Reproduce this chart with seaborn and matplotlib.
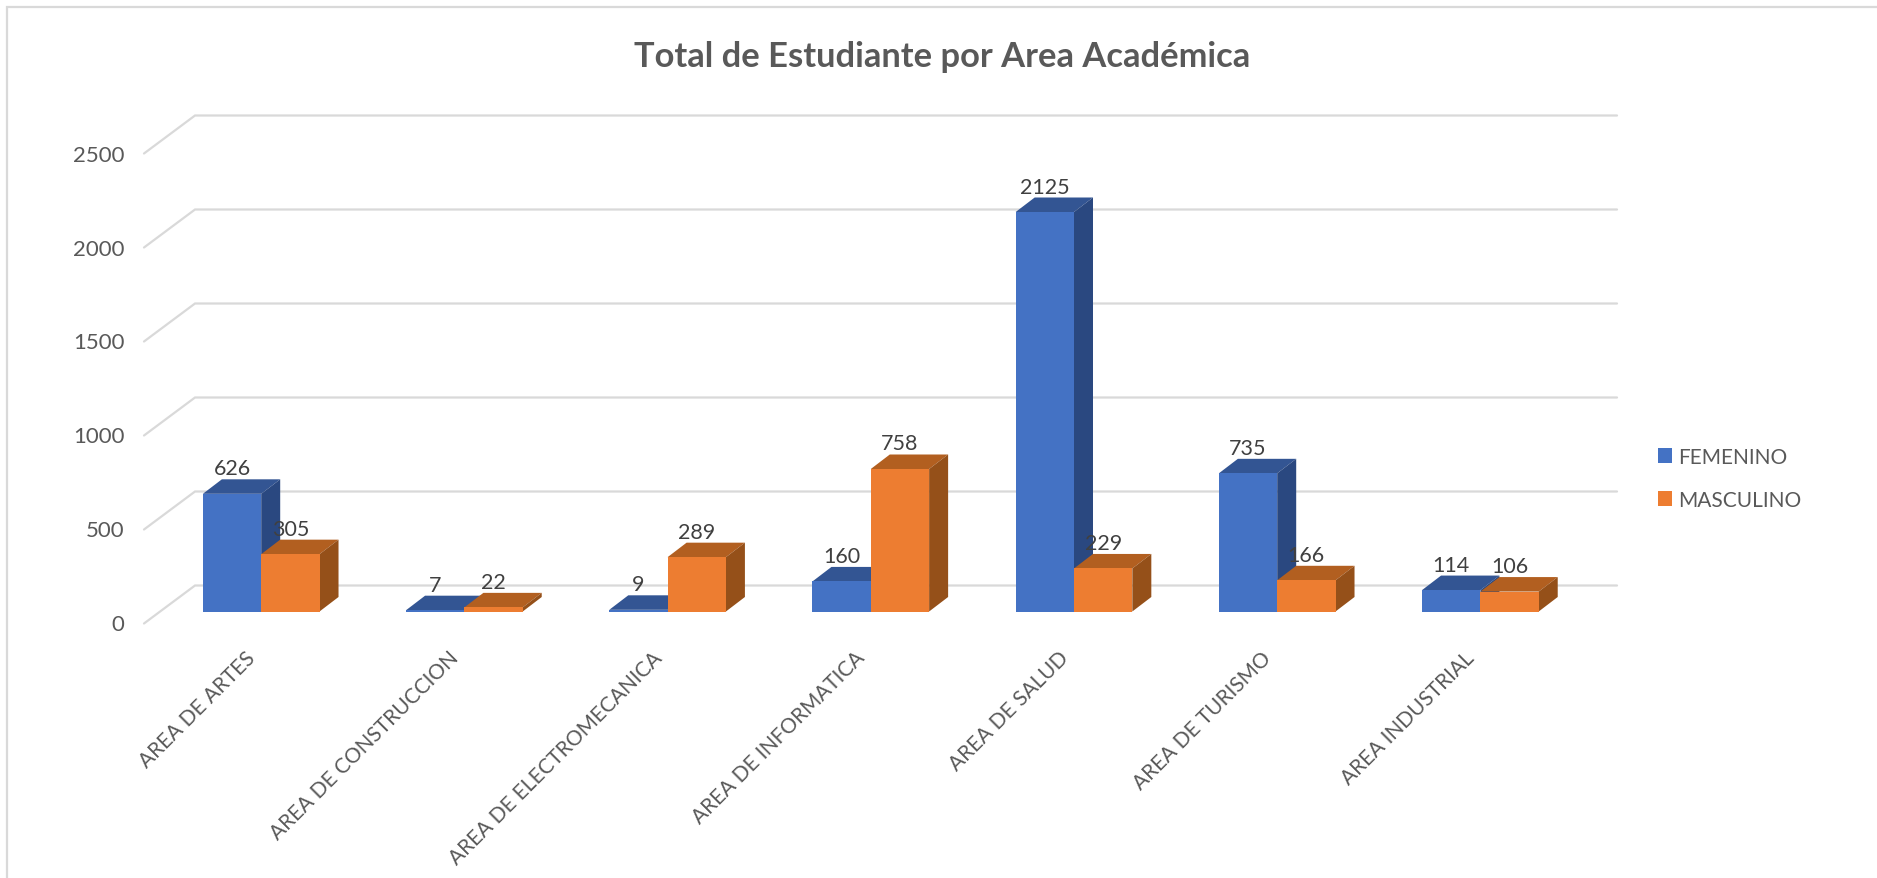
import matplotlib
matplotlib.use("Agg")
import matplotlib.pyplot as plt
from matplotlib.patches import Polygon, Rectangle, Patch
from matplotlib.transforms import Affine2D
import seaborn as sns
import pandas as pd

categories = ["AREA DE ARTES", "AREA DE CONSTRUCCION", "AREA DE ELECTROMECANICA",
              "AREA DE INFORMATICA", "AREA DE SALUD", "AREA DE TURISMO", "AREA INDUSTRIAL"]
femenino = [626, 7, 9, 160, 2125, 735, 114]
masculino = [305, 22, 289, 758, 229, 166, 106]
y_ticks = [0, 500, 1000, 1500, 2000, 2500]
series_names = ["FEMENINO", "MASCULINO"]
title = "Total de Estudiante por Area Académica"

FONT = ["Lato", "DejaVu Sans"]
W, H = 1877, 879
PX_PER_CAT = 203.2
PX_PER_UNIT = 0.188
X0_PX = 261.2      # pixel centre of first category
BASE_PX = 612.5    # pixel row of value 0

sns.set_theme(style="white")
plt.rcParams["font.family"] = FONT

df = pd.DataFrame({
    "cat": categories * 2,
    "val": femenino + masculino,
    "sex": [series_names[0]] * 7 + [series_names[1]] * 7,
})

fig = plt.figure(figsize=(W / 100, H / 100), dpi=100)
L, R = 144.0, 1617.0
T_V, B_V = 2700.0, -100.0
top_px = BASE_PX - T_V * PX_PER_UNIT
bot_px = BASE_PX - B_V * PX_PER_UNIT
ax = fig.add_axes([L / W, 1 - bot_px / H, (R - L) / W, (bot_px - top_px) / H])

colors = {"FEMENINO": "#4472C4", "MASCULINO": "#ED7D31"}
sns.barplot(data=df, x="cat", y="val", hue="sex", hue_order=series_names, palette=colors,
            width=0.574, gap=0, dodge=True, saturation=1, legend=False, ax=ax, zorder=4,
            linewidth=0)
ax.set_xlim((L - X0_PX) / PX_PER_CAT, (R - X0_PX) / PX_PER_CAT)
ax.set_ylim(B_V, T_V)
for s in ax.spines.values():
    s.set_visible(False)
ax.set_xlabel("")
ax.set_ylabel("")

# depth of bars, in data units
DX = 19.0 / PX_PER_CAT
DY = 14.5 / PX_PER_UNIT
shades = {0: ("#335593", "#2A4880"), 1: ("#B25F20", "#955019")}
cn = ax.containers
for si, (cont, vals) in enumerate(zip(cn, (femenino, masculino))):
    top_c, side_c = shades[si]
    for bar, v in zip(cont, vals):
        x0, x1 = bar.get_x(), bar.get_x() + bar.get_width()
        ax.add_patch(Polygon([(x0, v), (x0 + DX, v + DY), (x1 + DX, v + DY), (x1, v)],
                             closed=True, fc=top_c, ec="none", zorder=2 + si))
        ax.add_patch(Polygon([(x1, 0), (x1 + DX, DY), (x1 + DX, v + DY), (x1, v)],
                             closed=True, fc=side_c, ec="none", zorder=2 + si))
        ax.text((x0 + x1) / 2, v + DY + 1.0 / PX_PER_UNIT, str(v), ha="center", va="bottom",
                fontsize=15.5, color="#404040", zorder=10, family=FONT)

# 3D gridlines: front-left corner, back-left corner, back-right end
back_x = ax.get_xlim()[0] + 51.0 / PX_PER_CAT
front_x = ax.get_xlim()[0]
right_x = ax.get_xlim()[1]
for v in y_ticks:
    ax.plot([front_x, back_x, right_x], [v - 12 / PX_PER_UNIT, v + 26 / PX_PER_UNIT, v + 26 / PX_PER_UNIT],
            color="#D9D9D9", lw=1.6, zorder=1, clip_on=False, solid_joinstyle="miter")

ax.set_yticks(y_ticks)
ax.set_yticklabels([str(v) for v in y_ticks], fontsize=16, color="#595959", family=FONT)
ax.tick_params(axis="y", length=0, pad=14)
shift_y = Affine2D().translate(0, -11)
for lab in ax.get_yticklabels():
    lab.set_transform(lab.get_transform() + shift_y)

ax.set_xticks(range(len(categories)))
ax.set_xticklabels(categories, fontsize=15, color="#595959", rotation=45, ha="right",
                   va="top", rotation_mode="anchor", family=FONT)
ax.tick_params(axis="x", length=0, pad=12)
shift_x = Affine2D().translate(-16, 0)
for lab in ax.get_xticklabels():
    lab.set_transform(lab.get_transform() + shift_x)

fig.text(942 / W, 1 - 57 / H, title, ha="center", va="center", fontsize=24.8, fontweight="bold",
         color="#595959", family=FONT)

handles = [Patch(fc=colors[n], ec="none", label=n) for n in series_names]
fig.legend(handles=handles, loc="upper left", bbox_to_anchor=(1658 / W, 1 - 448 / H),
           frameon=False, labelcolor="#595959", handlelength=0.69, handleheight=0.69,
           handletextpad=0.3, labelspacing=1.1, borderpad=0, borderaxespad=0,
           prop={"family": FONT, "size": 15})

# outer chart frame
fig.add_artist(Rectangle((7.5 / W, -0.1), 1.2, 1 - 8 / H + 0.1, transform=fig.transFigure,
                         fc="none", ec="#D9D9D9", lw=1.6))

fig.savefig("out.png", dpi=100, facecolor="white")
